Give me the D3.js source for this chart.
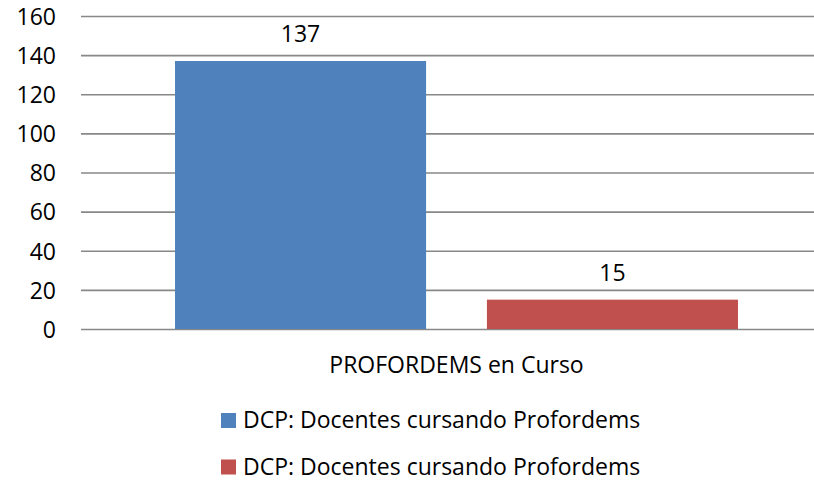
<!DOCTYPE html>
<html>
<head>
<meta charset="utf-8">
<script src="https://cdn.jsdelivr.net/npm/d3@7"></script>
<style>
  body { margin: 0; background: #fff; }
  text { font-family: "Open Sans", "Noto Sans", sans-serif; fill: #000; }
</style>
</head>
<body>
<div id="chart"></div>
<script>
// data
var categories = ["PROFORDEMS en Curso"];
var seriesNames = ["DCP: Docentes cursando Profordems", "DCP: Docentes cursando Profordems"];
var seriesValues = [[137], [15]];
var seriesColors = ["#4F81BD", "#C0504D"];
var yTicks = [0, 20, 40, 60, 80, 100, 120, 140, 160];

var width = 814, height = 481;
var plot = {left: 81, right: 832, top: 16, bottom: 329};
var fontSize = "23px";

var svg = d3.select("#chart").append("svg")
    .attr("width", width)
    .attr("height", height);

var y = d3.scaleLinear().domain([0, 160]).range([plot.bottom, plot.top]);

var x0 = d3.scaleBand()
    .domain(categories)
    .range([plot.left, plot.right])
    .paddingInner(0)
    .paddingOuter(0.167);

var x1 = d3.scaleBand()
    .domain(d3.range(seriesNames.length))
    .range([0, x0.bandwidth()])
    .paddingInner(0.195)
    .paddingOuter(0);

// gridlines
svg.append("g")
  .selectAll("line")
  .data(yTicks)
  .enter().append("line")
    .attr("x1", plot.left)
    .attr("x2", plot.right)
    .attr("y1", function(d) { return y(d) + 0.5; })
    .attr("y2", function(d) { return y(d) + 0.5; })
    .style("stroke", "#888")
    .style("stroke-width", 1.7);

// y axis labels
var yAxis = d3.axisLeft(y).tickValues(yTicks).tickSize(0).tickPadding(0);
var gy = svg.append("g")
    .attr("transform", "translate(56,0)")
    .call(yAxis);
gy.select(".domain").remove();
gy.selectAll("text")
    .style("font-size", fontSize)
    .style("font-family", "'Open Sans', 'Noto Sans', sans-serif")
    .attr("dy", "0.36em");

// bars
var groups = svg.append("g")
  .selectAll("g")
  .data(categories)
  .enter().append("g")
    .attr("transform", function(d) { return "translate(" + x0(d) + ",0)"; });

seriesNames.forEach(function(name, s) {
  groups.append("rect")
      .attr("x", function(d, i) { return x1(s); })
      .attr("y", function(d, i) { return y(seriesValues[s][i]); })
      .attr("width", x1.bandwidth())
      .attr("height", function(d, i) { return y(0) - y(seriesValues[s][i]); })
      .style("fill", seriesColors[s]);

  groups.append("text")
      .attr("x", function(d, i) { return x1(s) + x1.bandwidth() / 2; })
      .attr("y", function(d, i) { return y(seriesValues[s][i]) - 18.5; })
      .attr("text-anchor", "middle")
      .style("font-size", fontSize)
      .text(function(d, i) { return seriesValues[s][i]; });
});

// category labels
svg.append("g")
  .selectAll("text")
  .data(categories)
  .enter().append("text")
    .attr("x", function(d) { return x0(d) + x0.bandwidth() / 2; })
    .attr("y", 373)
    .attr("text-anchor", "middle")
    .style("font-size", fontSize)
    .text(function(d) { return d; });

// legend
var legend = svg.append("g")
  .selectAll("g")
  .data(seriesNames)
  .enter().append("g")
    .attr("transform", function(d, i) { return "translate(221," + (413 + i * 46.5) + ")"; });

legend.append("rect")
    .attr("width", 15)
    .attr("height", 15)
    .style("fill", function(d, i) { return seriesColors[i]; });

legend.append("text")
    .attr("x", 22)
    .attr("y", 15)
    .style("font-size", fontSize)
    .text(function(d) { return d; });
</script>
</body>
</html>
